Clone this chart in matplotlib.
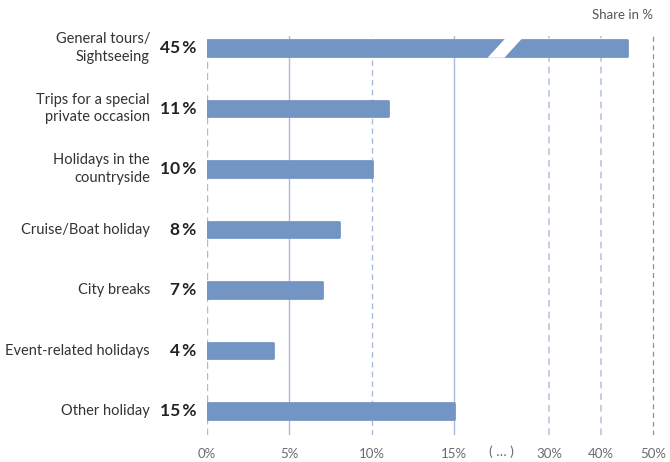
import numpy as np
import matplotlib
matplotlib.use("Agg")
import matplotlib.pyplot as plt
from matplotlib.patches import Polygon
import matplotlib.transforms as mtransforms

categories = ["General tours/\nSightseeing", "Trips for a special\nprivate occasion",
              "Holidays in the\ncountryside", "Cruise/Boat holiday", "City breaks",
              "Event-related holidays", "Other holiday"]
shares = [45, 11, 10, 8, 7, 4, 15]
value_labels = ["45\u2009%", "11\u2009%", "10\u2009%", "8\u2009%", "7\u2009%", "4\u2009%", "15\u2009%"]
tick_values = [0, 5, 10, 15, 30, 40, 50]
tick_labels = ["0%", "5%", "10%", "15%", "30%", "40%", "50%"]

BAR = "#7395c4"
GAP = 5.78      # room taken by 15..30 on the broken axis
K = 0.316       # squeeze factor above 30


def fwd(v):
    v = np.asarray(v, dtype=float)
    mid = 15 + (v - 15) / 15 * GAP
    hi = 15 + GAP + (v - 30) * K
    return np.where(v <= 15, v, np.where(v >= 30, hi, mid))


def inv(p):
    p = np.asarray(p, dtype=float)
    mid = 15 + (p - 15) / GAP * 15
    hi = 30 + (p - 15 - GAP) / K
    return np.where(p <= 15, p, np.where(p >= 15 + GAP, hi, mid))


plt.rcParams['font.family'] = ['Lato', 'DejaVu Sans']

fig = plt.figure(figsize=(6.7, 4.62), dpi=100)
ax = fig.add_axes([0.309, 0.0584, 0.676, 0.8636])
ax.set_xscale('function', functions=(fwd, inv))
ax.set_xlim(0, 51.3)
ax.set_ylim(6.397, -0.198)

y = np.arange(len(shares))
ax.barh(y, shares, height=0.26, color=BAR, edgecolor=BAR, linewidth=2.0,
        joinstyle='round', zorder=3)

# break in the first bar
bh = 0.16
ax.add_patch(Polygon([(20.3, bh), (22.95, bh), (25.75, -bh), (23.1, -bh)],
                     closed=True, facecolor="white", edgecolor="none", zorder=4))

# grid lines
grid = {0: dict(color="#a9bbda", ls=(0, (5, 3)), lw=1.0),
        5: dict(color="#a9bbda", ls="-", lw=1.0),
        10: dict(color="#a9bbda", ls=(0, (4, 3)), lw=1.0),
        15: dict(color="#a9bbda", ls="-", lw=1.0),
        30: dict(color="#b8c6de", ls=(0, (4, 3)), lw=1.2),
        40: dict(color="#b8c6de", ls=(0, (4, 3)), lw=1.2),
        50: dict(color="#7a93bd", ls=(0, (4, 3)), lw=0.9)}
for v, kw in grid.items():
    ax.axvline(v, zorder=1, **kw)

for s in ax.spines.values():
    s.set_visible(False)
ax.set_yticks([])
ax.set_xticks(tick_values)
ax.set_xticklabels(tick_labels, color="#6b6b6b", fontsize=9.5)
ax.xaxis.set_minor_locator(matplotlib.ticker.NullLocator())
ax.tick_params(axis='x', length=0, pad=9)
trans = mtransforms.blended_transform_factory(ax.transData, ax.transAxes)
ax.text(22.5, -0.027, "( … )", transform=trans, ha="center", va="top",
        color="#6b6b6b", fontsize=10)

lab = mtransforms.blended_transform_factory(fig.transFigure, ax.transData)
for i in range(len(shares)):
    ax.text(150 / 670, y[i], categories[i], transform=lab, ha="right",
            va="center", fontsize=10.5, color="#333333", linespacing=1.3)
    ax.text(196 / 670, y[i], value_labels[i], transform=lab, ha="right",
            va="center", fontsize=12.5, fontweight="bold", color="#222222")

fig.text(653 / 670, 1 - 15 / 462, "Share in %", ha="right", va="center",
         fontsize=9.5, color="#555555")

fig.savefig("out.png", dpi=100)
